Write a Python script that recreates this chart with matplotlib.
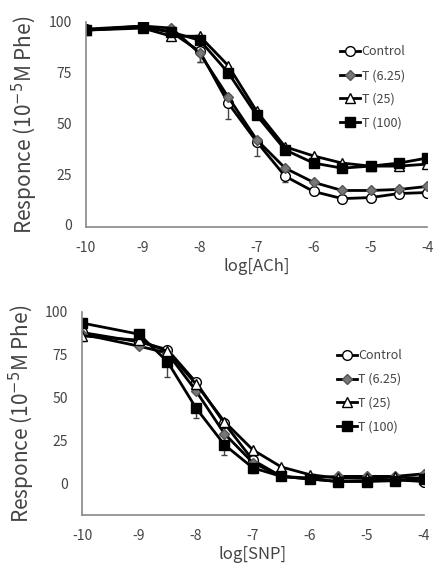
import numpy as np
import matplotlib.pyplot as plt

plt.rcParams['font.family'] = ['Noto Sans CJK JP', 'DejaVu Sans']
plt.rcParams['axes.unicode_minus'] = False

log_conc = [-10, -9, -8.5, -8, -7.5, -7, -6.5, -6, -5.5, -5, -4.5, -4]
series_names = ['Control', 'T (6.25)', 'T (25)', 'T (100)']

# ACh relaxation (% of 10^-5 M Phe contraction)
ach_control = [96.5, 98, 95, 85.5, 60, 41, 24, 16.5, 13, 13.5, 15.5, 16]
ach_t625 = [96, 98, 97, 84.5, 63, 42, 28, 21, 17, 17, 17.5, 19]
ach_t25 = [96, 97, 93, 93, 78.5, 56, 38.5, 34, 30.5, 29, 29, 30]
ach_t100 = [96, 97.5, 95, 91, 75, 54, 37, 30.5, 28, 29, 30.5, 33]
ach_err = [
    [0, 0, 0, 5, 8, 7, 3, 0, 0, 0, 0, 0],
    [0, 0, 0, 4, 0, 0, 0, 0, 0, 0, 0, 0],
    [0, 0, 2, 0, 0, 0, 0, 0, 0, 0, 0, 0],
    [0, 0, 0, 0, 0, 0, 0, 0, 0, 0, 0, 0],
]

# SNP relaxation
snp_control = [88, 82.5, 78, 59, 35, 13.5, 4, 2.5, 1, 1.5, 2, 1]
snp_t625 = [87, 80, 76, 54, 29, 12, 4, 3, 4, 4, 4, 5.5]
snp_t25 = [86, 83.5, 77, 58, 36, 19.5, 9.5, 5, 3, 3, 3.5, 3]
snp_t100 = [93.5, 87, 71, 44, 22.5, 9, 4, 2.5, 1, 1, 1.5, 2.5]
snp_err = [
    [0, 0, 0, 0, 0, 0, 0, 0, 0, 0, 0, 0],
    [0, 0, 0, 0, 0, 0, 0, 0, 0, 0, 0, 0],
    [3, 0, 0, 0, 0, 0, 0, 0, 0, 0, 0, 0],
    [0, 0, 9, 6, 6, 3, 0, 0, 0, 0, 0, 0],
]

styles = [
    dict(marker='o', mfc='white', mec='black', ms=7),
    dict(marker='D', mfc='#777777', mec='#555555', ms=5),
    dict(marker='^', mfc='white', mec='black', ms=7),
    dict(marker='s', mfc='black', mec='black', ms=7),
]


def draw_panel(ax, data, errs, xlabel, ylim, leg_y):
    # error bars (lower side only) behind the curves
    for vals, err in zip(data, errs):
        ax.errorbar(log_conc, vals, yerr=[err, np.zeros(len(err))], fmt='none',
                    ecolor='#444444', elinewidth=1, capsize=2)
    for vals, name, st in zip(data, series_names, styles):
        ax.plot(log_conc, vals, color='black', lw=2, label=name, **st)
    ax.set_xlim(-10, -4)
    ax.set_ylim(*ylim)
    ax.set_yticks([0, 25, 50, 75, 100])
    ax.set_xticks(range(-10, -3))
    for s in ['top', 'right']:
        ax.spines[s].set_visible(False)
    for s in ['left', 'bottom']:
        ax.spines[s].set_color('#888888')
        ax.spines[s].set_linewidth(1.2)
    ax.spines['left'].set_bounds(ylim[0], 100)
    ax.tick_params(length=0, labelsize=10, colors='#444444', pad=10)
    ax.set_xlabel(xlabel, fontsize=12, color='#444444', labelpad=2)
    ax.set_ylabel('Responce (10$^{-5}$M Phe)', fontsize=15, color='#444444',
                  labelpad=6)
    leg = ax.legend(loc='upper right', bbox_to_anchor=(0.95, leg_y), frameon=False,
                    fontsize=9, handlelength=1.6, handletextpad=0.1,
                    labelspacing=0.85, borderaxespad=0)
    for t in leg.get_texts():
        t.set_color('#444444')


fig = plt.figure(figsize=(4.34, 5.64), dpi=100)
ax1 = fig.add_axes([0.198, 0.5975, 0.787, 0.3635])
ax2 = fig.add_axes([0.189, 0.087, 0.787, 0.360])

draw_panel(ax1, [ach_control, ach_t625, ach_t25, ach_t100], ach_err,
           'log[ACh]', (-1, 100), 0.91)
draw_panel(ax2, [snp_control, snp_t625, snp_t25, snp_t100], snp_err,
           'log[SNP]', (-18.5, 100), 0.84)

fig.savefig('out.png', dpi=100)
